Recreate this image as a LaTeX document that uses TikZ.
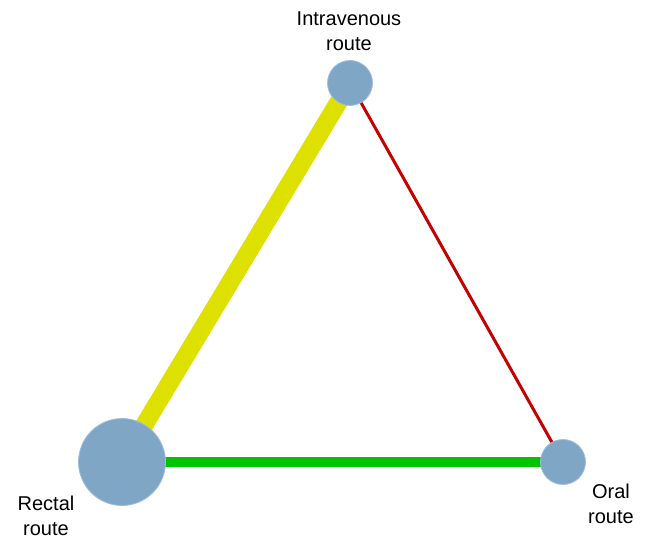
\documentclass[tikz,border=0pt]{standalone}
\usepackage{fontspec}
\setmainfont{Liberation Sans}
\usetikzlibrary{backgrounds}
\definecolor{nodefill}{RGB}{128,166,198}
\definecolor{nodeedge}{RGB}{160,190,220}
\definecolor{lyellow}{RGB}{222,224,0}
\definecolor{lgreen}{RGB}{0,196,0}
\definecolor{lred}{RGB}{196,0,0}
\tikzset{
  routenode/.style={circle, fill=nodefill, draw=nodeedge, line width=0.8pt, inner sep=0pt},
  lbl/.style={align=center, font=\fontsize{20}{24.5}\selectfont, inner sep=0pt}
}
\begin{document}
\begin{tikzpicture}[x=1pt,y=-1pt]
\useasboundingbox (0,0) rectangle (648,540);
\node[routenode, minimum size=45pt] (iv) at (350,83) {};
\node[routenode, minimum size=87pt] (rec) at (122,462) {};
\node[routenode, minimum size=45pt] (oral) at (563,462) {};
\begin{scope}[on background layer]
\draw[lyellow, line width=18pt] (rec.center) -- (iv.center);
\draw[lgreen, line width=10pt] (rec.center) -- (oral.center);
\draw[lred, line width=3pt] (iv.center) -- (oral.center);
\end{scope}
\node[lbl] (livl) at (349,31) {Intravenous\\route};
\node[lbl] (lrec) at (46,516) {Rectal\\route};
\node[lbl] (loral) at (611,504) {Oral\\route};
\end{tikzpicture}
\end{document}
